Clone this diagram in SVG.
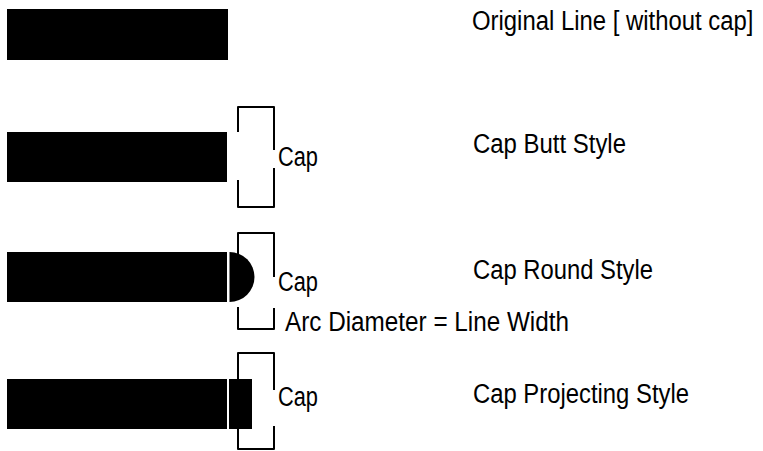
<svg xmlns="http://www.w3.org/2000/svg" width="763" height="451" viewBox="0 0 763 451">
<style>
.bar{fill:#000}
.br{fill:none;stroke:#000;stroke-width:2;stroke-linejoin:round}
text{font-family:"Liberation Sans",Arial,sans-serif;font-size:27px;fill:#000}
</style>
<rect width="763" height="451" fill="#fff"/>
<g id="original">
<rect class="bar" x="7" y="9" width="221" height="51"/>
<text transform="translate(472 30) scale(0.885 1)" x="0" y="0">Original Line [ without cap]</text>
</g>
<g id="butt">
<rect class="bar" x="7" y="132" width="220" height="50"/>
<text x="473" y="153" textLength="153" lengthAdjust="spacingAndGlyphs">Cap Butt Style</text>
</g>
<g id="round">
<rect class="bar" x="7" y="252" width="220" height="50"/>
<path class="bar" d="M229.5,252 A25,25 0 0 1 229.5,302 Z"/>
<text x="473" y="279" textLength="180" lengthAdjust="spacingAndGlyphs">Cap Round Style</text>
</g>
<g id="projecting">
<rect class="bar" x="7" y="379" width="220" height="50"/>
<rect class="bar" x="229" y="379" width="23" height="50"/>
<text x="473" y="403" textLength="216" lengthAdjust="spacingAndGlyphs">Cap Projecting Style</text>
</g>
<g id="connectors">
<path class="br" d="M238,132 V107 H274 V150 M274,168 V207 H238 V180"/>
<path class="br" d="M238,255 V233 H274 V277 M274,308 V329 H238 V307"/>
<path class="br" d="M238,379 V353 H274 V390 M274,426 V449 H238 V429"/>
</g>
<g id="labels">
<text x="278" y="166" textLength="40" lengthAdjust="spacingAndGlyphs">Cap</text>
<text x="278" y="291" textLength="40" lengthAdjust="spacingAndGlyphs">Cap</text>
<text x="278" y="406" textLength="40" lengthAdjust="spacingAndGlyphs">Cap</text>
<text x="285" y="331" textLength="284" lengthAdjust="spacingAndGlyphs">Arc Diameter = Line Width</text>
</g>
</svg>
